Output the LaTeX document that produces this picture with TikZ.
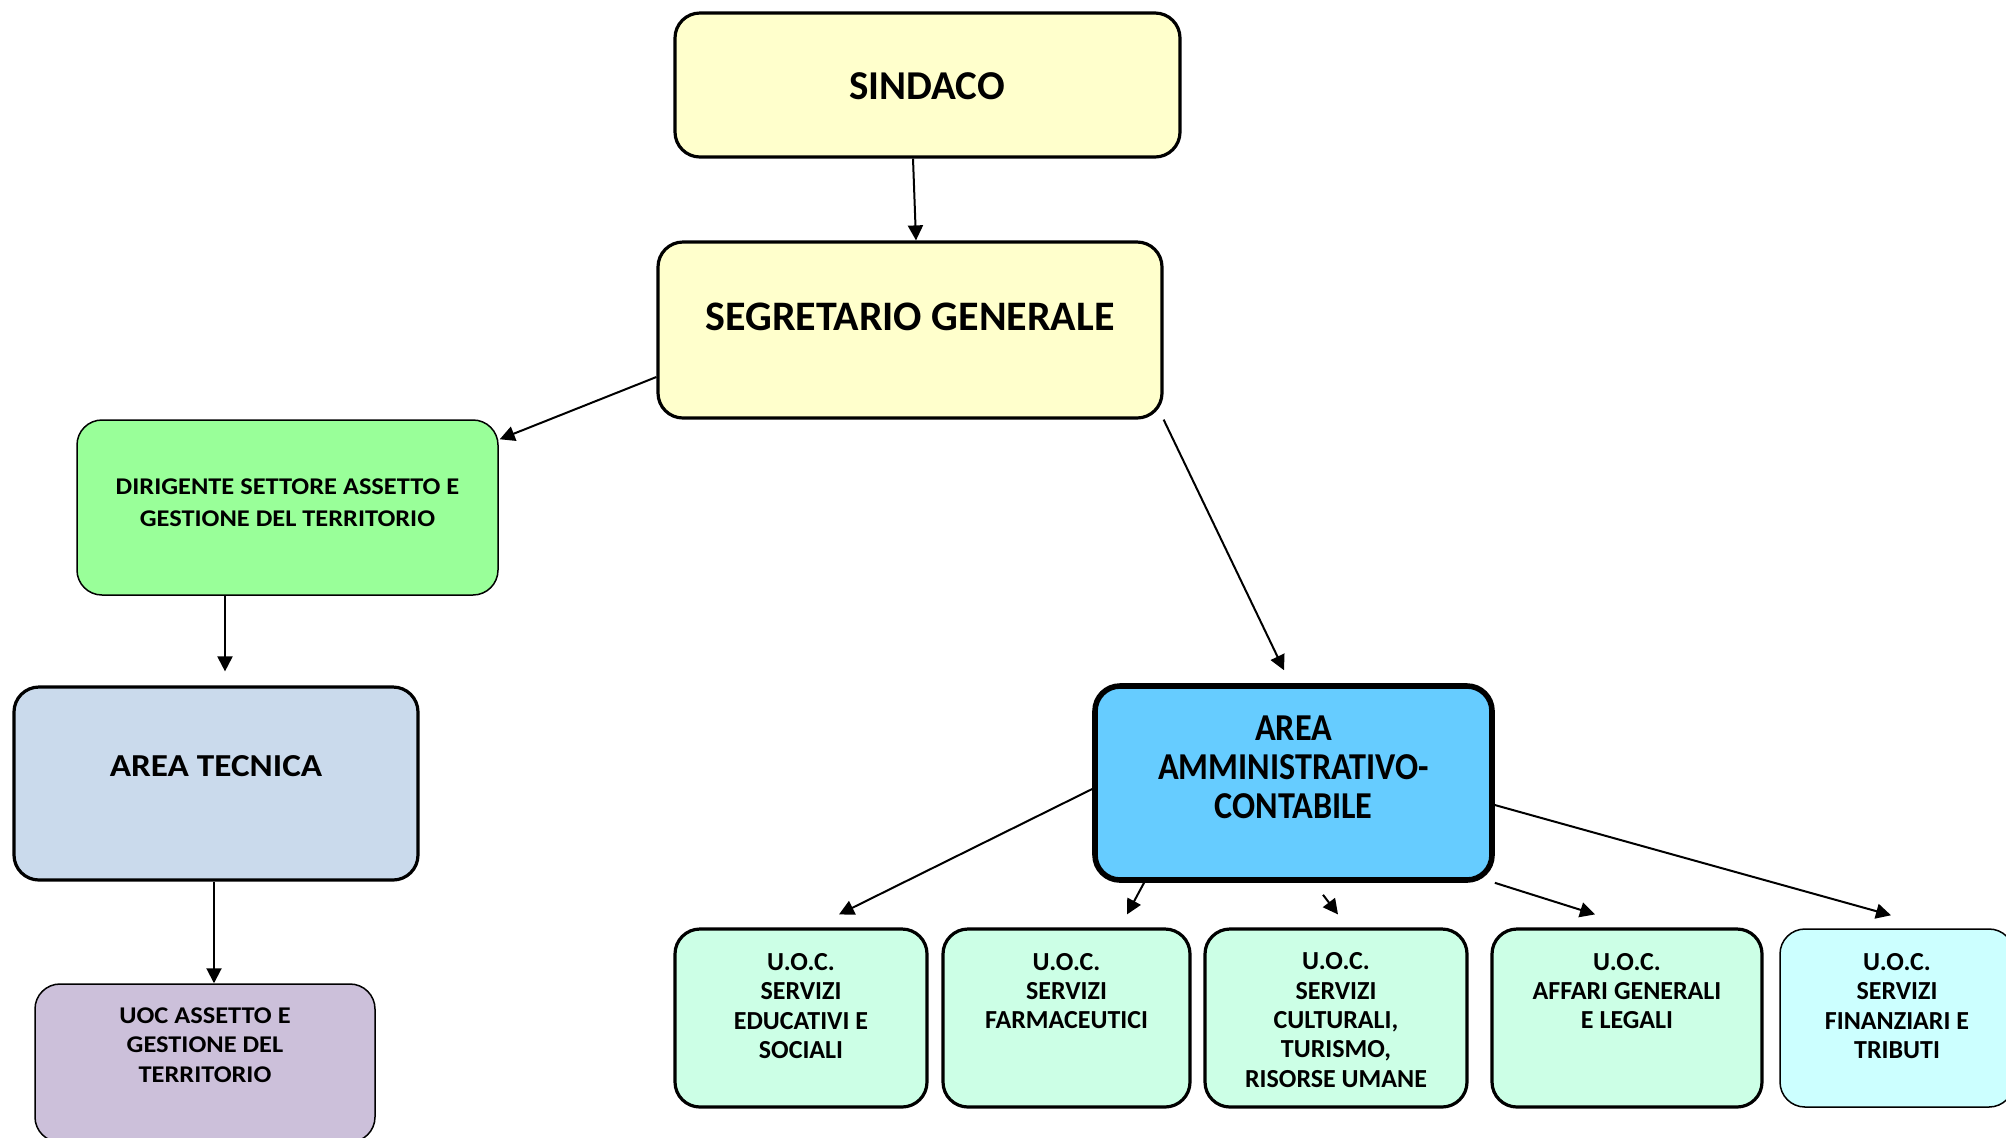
\documentclass[tikz,border=0pt]{standalone}
\usepackage{fontspec}
\setmainfont{Carlito}
\newfontfamily\widefont[FakeStretch=1.1]{Carlito}
\newfontfamily\narrowfont[FakeStretch=0.9]{Carlito}
\usetikzlibrary{arrows.meta,calc}
\definecolor{cYellow}{HTML}{FFFFCC}
\definecolor{cGreen}{HTML}{99FF99}
\definecolor{cSteel}{HTML}{CADAEC}
\definecolor{cLav}{HTML}{CCC0DA}
\definecolor{cBlue}{HTML}{66CCFF}
\definecolor{cMint}{HTML}{CCFFE6}
\definecolor{cCyan}{HTML}{CCFFFF}
\tikzset{
  box/.style={draw=black, rounded corners=12.5pt, inner sep=0pt, line width=1.6pt},
  thinbox/.style={box, line width=0.75pt},
  heavybox/.style={box, line width=2.8pt},
  txt/.style={inner sep=0pt, align=center, font=\bfseries\fontsize{13}{14.7}\selectfont},
  arr/.style={line width=1pt, -{Triangle[length=7.5pt,width=7.5pt]}}
}
\begin{document}
\begin{tikzpicture}[x=0.5pt,y=-0.5pt]
\useasboundingbox (0,0) rectangle (2006,1137);
% boxes
\node[box, fill=cYellow, minimum width=252.5pt, minimum height=72pt] (sind) at (927.5,85) {};
\node[box, fill=cYellow, minimum width=252pt, minimum height=88pt] (seg) at (910,330) {};
\node[thinbox, fill=cGreen, minimum width=210.5pt, minimum height=87.5pt] (dir) at (287.5,507.5) {};
\node[box, fill=cSteel, minimum width=202pt, minimum height=96.5pt] (at) at (216,783.5) {};
\node[thinbox, fill=cLav, minimum width=170pt, minimum height=79pt] (uoc) at (205,1063) {};
\node[heavybox, fill=cBlue, minimum width=198.5pt, minimum height=97pt] (amm) at (1293.5,783) {};
\node[box, fill=cMint, minimum width=126pt, minimum height=89pt] (b1) at (801,1018) {};
\node[box, fill=cMint, minimum width=123.5pt, minimum height=89pt] (b2) at (1066.5,1018) {};
\node[box, fill=cMint, minimum width=131pt, minimum height=89pt] (b3) at (1336,1018) {};
\node[box, fill=cMint, minimum width=135pt, minimum height=89pt] (b4) at (1627,1018) {};
\node[thinbox, fill=cCyan, minimum width=117pt, minimum height=89pt] (b5) at (1897,1018) {};
% texts
\node[txt, font=\bfseries\fontsize{20.5}{22}\selectfont] (sindT) at (927,86) {SINDACO};
\node[txt, font=\bfseries\fontsize{21}{22}\selectfont] (segT) at (910,317) {SEGRETARIO GENERALE};
\node[txt, font=\widefont\bfseries\fontsize{12}{16}\selectfont] (dirT) at (287.5,503) {DIRIGENTE SETTORE ASSETTO E\\GESTIONE DEL TERRITORIO};
\node[txt, font=\widefont\bfseries\fontsize{16}{18}\selectfont] (atT) at (216,766) {AREA TECNICA};
\node[txt, font=\widefont\bfseries\fontsize{12}{14.7}\selectfont] (uocT) at (205,1045) {UOC ASSETTO E\\GESTIONE DEL\\TERRITORIO};
\node[txt, font=\narrowfont\bfseries\fontsize{19}{19.5}\selectfont] (ammT) at (1293.5,767) {AREA\\AMMINISTRATIVO-\\CONTABILE};
\node[txt] (b1T) at (801,1006) {U.O.C.\\SERVIZI\\EDUCATIVI E\\SOCIALI};
\node[txt] (b2T) at (1066.5,991) {U.O.C.\\SERVIZI\\FARMACEUTICI};
\node[txt] (b3T) at (1336,1020) {U.O.C.\\SERVIZI\\CULTURALI,\\TURISMO,\\RISORSE UMANE};
\node[txt] (b4T) at (1627,991) {U.O.C.\\AFFARI GENERALI\\E LEGALI};
\node[txt] (b5T) at (1897,1006) {U.O.C.\\SERVIZI\\FINANZIARI E\\TRIBUTI};
% connectors
\draw[arr] ([xshift=-7.25pt]sind.south) -- ([xshift=3pt]seg.north);
\draw[arr] ([yshift=-23.5pt]seg.west) -- ([xshift=0.5pt,yshift=-10pt]dir.north east);
\draw[arr] (seg.south east) -- ([xshift=-4.75pt,yshift=6.5pt]amm.north);
\draw[arr] ([xshift=-31.25pt]dir.south) -- ([xshift=4.5pt,yshift=7pt]at.north);
\draw[arr] ([xshift=-1pt]at.south) -- ([xshift=4.5pt]uoc.north);
\draw[arr] ([yshift=-3pt]amm.west) -- ([xshift=19pt,yshift=6.5pt]b1.north);
\draw[arr] ([xshift=-74.75pt]amm.south) -- ([xshift=30.25pt,yshift=6.5pt]b2.north);
\draw[arr] ([xshift=14.75pt,yshift=-6pt]amm.south) -- ([xshift=1pt,yshift=6.5pt]b3.north);
\draw[arr] (amm.south east) -- ([xshift=-16pt,yshift=6.5pt]b4.north);
\draw[arr] ([yshift=-11pt]amm.east) -- ([xshift=-3pt,yshift=6.5pt]b5.north);
\end{tikzpicture}
\end{document}
